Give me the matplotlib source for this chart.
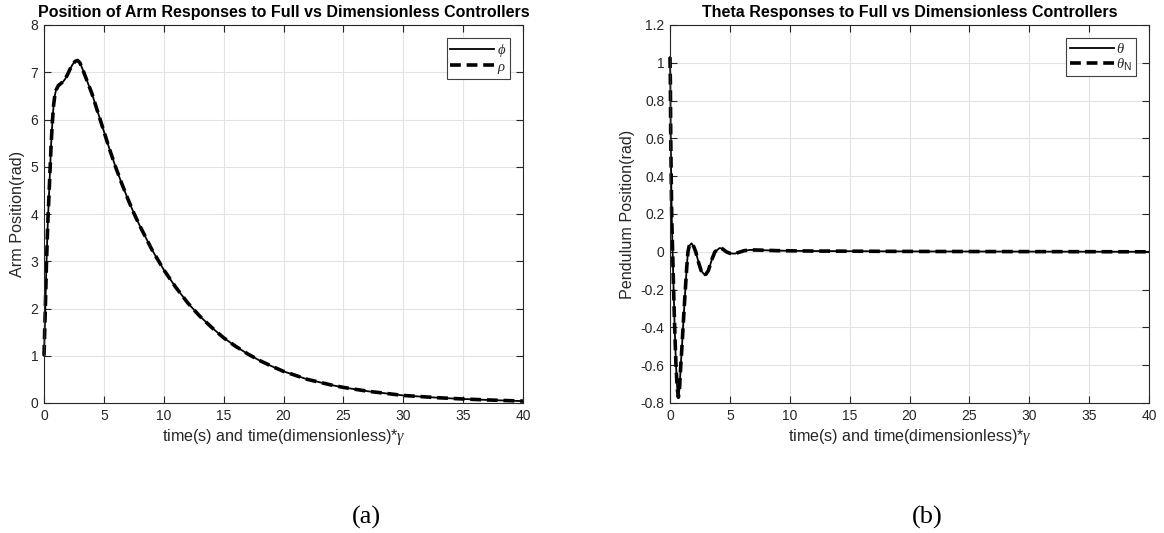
import matplotlib
matplotlib.use("Agg")
import matplotlib.pyplot as plt

plt.rcParams['font.family'] = ['Liberation Sans', 'DejaVu Sans']
plt.rcParams['mathtext.fontset'] = 'custom'
plt.rcParams['mathtext.it'] = 'Liberation Serif:italic'
plt.rcParams['mathtext.rm'] = 'Liberation Sans'

# ---- data (a): arm position ----
t_arm = [0, 0.1, 0.2, 0.3, 0.4, 0.5, 0.6, 0.7, 0.8, 0.9, 1.0, 1.2, 1.4, 1.6, 1.8,
         2.0, 2.2, 2.4, 2.6, 2.8, 3.0, 3.2, 3.5, 4.0, 4.5, 5.0, 5.5, 6.0, 6.5, 7.0,
         7.5, 8.0, 9.0, 10, 11, 12, 13, 14, 15, 16, 17, 18, 19, 20, 22, 24, 25, 27,
         30, 33, 35, 37, 40]
phi = [1.0, 1.9, 2.9, 3.7, 4.3, 4.9, 5.5, 5.95, 6.3, 6.5, 6.62, 6.72, 6.76, 6.8, 6.87,
       6.97, 7.08, 7.17, 7.23, 7.25, 7.2, 7.08, 6.88, 6.55, 6.15, 5.75, 5.35, 4.98, 4.64, 4.32,
       4.02, 3.75, 3.25, 2.82, 2.45, 2.12, 1.84, 1.6, 1.38, 1.2, 1.04, 0.9, 0.78, 0.67, 0.5,
       0.38, 0.33, 0.25, 0.16, 0.11, 0.085, 0.065, 0.04]
rho = [1.0, 1.9, 2.9, 3.7, 4.3, 4.9, 5.5, 5.95, 6.3, 6.5, 6.62, 6.72, 6.76, 6.8, 6.87,
       6.97, 7.08, 7.17, 7.23, 7.25, 7.2, 7.08, 6.88, 6.55, 6.15, 5.75, 5.35, 4.98, 4.64, 4.32,
       4.02, 3.75, 3.25, 2.82, 2.45, 2.12, 1.84, 1.6, 1.38, 1.2, 1.04, 0.9, 0.78, 0.67, 0.5,
       0.38, 0.33, 0.25, 0.16, 0.11, 0.085, 0.065, 0.04]

# ---- data (b): pendulum angle ----
t_pend = [0, 0.03, 0.06, 0.1, 0.14, 0.18, 0.22, 0.3, 0.39, 0.5, 0.6, 0.7, 0.8, 0.9,
          1.0, 1.09, 1.2, 1.28, 1.4, 1.5, 1.6, 1.8, 2.0, 2.15, 2.4, 2.6, 2.93, 3.2,
          3.5, 3.75, 4.15, 4.4, 4.7, 5.0, 5.4, 5.8, 6.2, 6.7, 7.5, 9, 12, 20, 30, 40]
theta = [1.03, 0.9, 0.62, 0.4, 0.2, 0.09, 0.0, -0.2, -0.4, -0.6, -0.72, -0.77, -0.72, -0.6,
         -0.5, -0.4, -0.28, -0.2, -0.08, 0.0, 0.03, 0.045, 0.025, 0.0, -0.06, -0.1, -0.125, -0.1,
         -0.04, 0.0, 0.02, 0.015, 0.0, -0.008, -0.01, -0.002, 0.006, 0.01, 0.009, 0.006, 0.004,
         0.002, 0.001, 0.0]
theta_n = list(theta)

x_ticks = [0, 5, 10, 15, 20, 25, 30, 35, 40]
arm_yticks = [0, 1, 2, 3, 4, 5, 6, 7, 8]
pend_yticks = [-0.8, -0.6, -0.4, -0.2, 0, 0.2, 0.4, 0.6, 0.8, 1, 1.2]
pend_ylabels = ['-0.8', '-0.6', '-0.4', '-0.2', '0', '0.2', '0.4', '0.6', '0.8', '1', '1.2']

W, H = 1164, 533
fig = plt.figure(figsize=(W / 100, H / 100), dpi=100)

TXT = '#262626'
DASH = (0, (3.0, 1.6))

def style(ax):
    for s in ax.spines.values():
        s.set_color(TXT)
        s.set_linewidth(0.8)
    ax.tick_params(direction='in', length=5, width=0.8, color=TXT, labelcolor=TXT,
                   labelsize=10, top=True, right=True, pad=4)
    ax.grid(True, color='#e3e3e3', linewidth=0.8)
    ax.set_axisbelow(True)

ax1 = fig.add_axes([44 / W, (H - 403) / H, (523 - 44) / W, 378 / H])
ax2 = fig.add_axes([670 / W, (H - 403) / H, (1149 - 670) / W, 378 / H])

for ax in (ax1, ax2):
    style(ax)
    ax.set_xlim(0, 40)
    ax.set_xticks(x_ticks)
    ax.set_xlabel(r'time(s) and time(dimensionless)*$\gamma$', fontsize=11.6, color=TXT, labelpad=3)

ax1.plot(t_arm, phi, color='black', lw=1.3, label=r'$\phi$', clip_on=False)
ax1.plot(t_arm, rho, color='black', lw=2.6, ls=DASH, label=r'$\rho$', clip_on=False)
ax1.set_ylim(0, 8)
ax1.set_yticks(arm_yticks)
ax1.set_ylabel('Arm Position(rad)', fontsize=11.6, color=TXT, labelpad=4)
ax1.set_title('Position of Arm Responses to Full vs Dimensionless Controllers',
              fontsize=11.5, fontweight='bold', color='black', pad=6)

ax2.plot(t_pend, theta, color='black', lw=1.3, label=r'$\theta$', clip_on=False)
ax2.plot(t_pend, theta_n, color='black', lw=2.6, ls=DASH, label=r'$\theta_{\mathrm{N}}$', clip_on=False)
ax2.set_ylim(-0.8, 1.2)
ax2.set_yticks(pend_yticks)
ax2.set_yticklabels(pend_ylabels)
ax2.set_ylabel('Pendulum Position(rad)', fontsize=11.6, color=TXT, labelpad=4)
ax2.set_title('Theta Responses to Full vs Dimensionless Controllers',
              fontsize=11.5, fontweight='bold', color='black', pad=6)

for ax in (ax1, ax2):
    leg = ax.legend(loc='upper right', fontsize=10.5, handlelength=3.0, handletextpad=0.2,
                    borderpad=0.25, labelspacing=0.05, fancybox=False, framealpha=1,
                    borderaxespad=0.9)
    leg.get_frame().set_edgecolor('#404040')
    leg.get_frame().set_linewidth(0.8)
    for txt in leg.get_texts():
        txt.set_color(TXT)

fig.text(366 / W, 1 - 517 / H, '(a)', family='Liberation Serif', fontsize=19,
         ha='center', va='center', color='black')
fig.text(927 / W, 1 - 517 / H, '(b)', family='Liberation Serif', fontsize=19,
         ha='center', va='center', color='black')

fig.savefig('out.png', dpi=100, facecolor='white')
